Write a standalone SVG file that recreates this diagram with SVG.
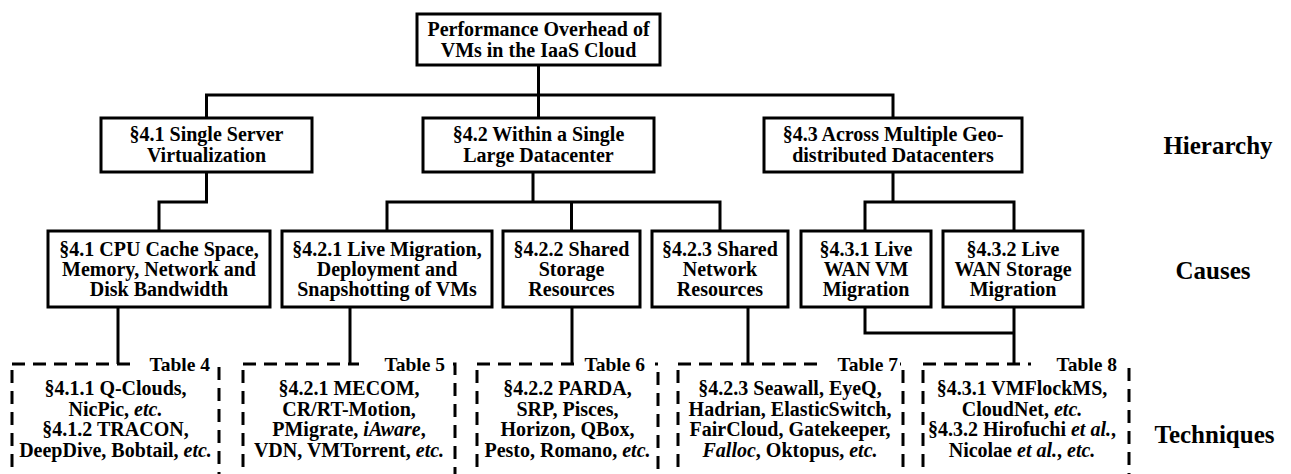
<svg xmlns="http://www.w3.org/2000/svg" width="1291" height="474" viewBox="0 0 1291 474">
<style>
.box{fill:#fff;stroke:#000;stroke-width:3}
.dbox{fill:none;stroke:#000;stroke-width:3;stroke-dasharray:13 8}
.conn{fill:none;stroke:#000;stroke-width:3}
.bg{fill:#fff;stroke:none}
text{font-family:"Liberation Serif","Times New Roman",serif;font-weight:bold;font-size:20px;text-anchor:middle;fill:#000}
.lab{font-size:25px}
.tab{text-anchor:end;font-size:19.5px}
.it{font-style:italic}
</style>
<rect width="1291" height="474" fill="#fff"/>

<g id="connectors">
  <path class="conn" d="M538.5,65 V95 M206.5,118 V95 H893 V118 M538.5,95 V118"/>
  <path class="conn" d="M206.5,172 V202 H159 V231"/>
  <path class="conn" d="M533,172 V202 M387,231 V202 H720 V231 M571.5,202 V231"/>
  <path class="conn" d="M893,172 V202 M865,231 V202 H1014 V231"/>
  <path class="conn" d="M118,307 V364"/>
  <path class="conn" d="M350,307 V364"/>
  <path class="conn" d="M572,307 V364"/>
  <path class="conn" d="M748,307 V364"/>
  <path class="conn" d="M865,307 V333 H1014 M1014,307 V364"/>
</g>

<g id="root">
  <rect class="box" x="417" y="14" width="243" height="51"/>
  <text x="538.5" y="36">Performance Overhead of</text>
  <text x="538.5" y="57">VMs in the IaaS Cloud</text>
</g>

<g id="h41">
  <rect class="box" x="101" y="118" width="211" height="54"/>
  <text x="206.5" y="141">§4.1 Single Server</text>
  <text x="206.5" y="162">Virtualization</text>
</g>
<g id="h42">
  <rect class="box" x="423" y="118" width="231" height="54"/>
  <text x="538.5" y="141">§4.2 Within a Single</text>
  <text x="538.5" y="162">Large Datacenter</text>
</g>
<g id="h43">
  <rect class="box" x="764" y="118" width="258" height="54"/>
  <text x="893" y="141">§4.3 Across Multiple Geo-</text>
  <text x="893" y="162">distributed Datacenters</text>
</g>

<g id="c41">
  <rect class="box" x="48" y="231" width="222" height="76"/>
  <text x="159" y="256">§4.1 CPU Cache Space,</text>
  <text x="159" y="276">Memory, Network and</text>
  <text x="159" y="296">Disk Bandwidth</text>
</g>
<g id="c421">
  <rect class="box" x="282" y="231" width="210" height="76"/>
  <text x="387" y="256">§4.2.1 Live Migration,</text>
  <text x="387" y="276">Deployment and</text>
  <text x="387" y="296">Snapshotting of VMs</text>
</g>
<g id="c422">
  <rect class="box" x="503" y="231" width="137" height="76"/>
  <text x="571.5" y="256">§4.2.2 Shared</text>
  <text x="571.5" y="276">Storage</text>
  <text x="571.5" y="296">Resources</text>
</g>
<g id="c423">
  <rect class="box" x="652" y="231" width="136" height="76"/>
  <text x="720" y="256">§4.2.3 Shared</text>
  <text x="720" y="276">Network</text>
  <text x="720" y="296">Resources</text>
</g>
<g id="c431">
  <rect class="box" x="801" y="231" width="130" height="76"/>
  <text x="866" y="256">§4.3.1 Live</text>
  <text x="866" y="276">WAN VM</text>
  <text x="866" y="296">Migration</text>
</g>
<g id="c432">
  <rect class="box" x="943" y="231" width="140" height="76"/>
  <text x="1013" y="256">§4.3.2 Live</text>
  <text x="1013" y="276">WAN Storage</text>
  <text x="1013" y="296">Migration</text>
</g>

<g id="t4">
  <path class="dbox" d="M12,364 H219 V480 M12,370 V480"/>
  <rect class="bg" x="131" y="355" width="85" height="18"/>
  <text class="tab" x="210" y="371">Table 4</text>
  <text x="115.5" y="395">§4.1.1 Q-Clouds,</text>
  <text x="115.5" y="415.5">NicPic, <tspan class="it">etc.</tspan></text>
  <text x="115.5" y="436">§4.1.2 TRACON,</text>
  <text x="115.5" y="456.5">DeepDive, Bobtail, <tspan class="it">etc.</tspan></text>
</g>
<g id="t5">
  <path class="dbox" d="M243,364 H455 V480 M243,370 V480"/>
  <rect class="bg" x="359" y="355" width="93" height="18"/>
  <text class="tab" x="445" y="371">Table 5</text>
  <text x="349" y="395">§4.2.1 MECOM,</text>
  <text x="349" y="415.5">CR/RT-Motion,</text>
  <text x="349" y="436">PMigrate, <tspan class="it">iAware</tspan>,</text>
  <text x="349" y="456.5">VDN, VMTorrent, <tspan class="it">etc.</tspan></text>
</g>
<g id="t6">
  <path class="dbox" d="M477,364 H658 V480 M477,370 V480"/>
  <rect class="bg" x="576" y="355" width="79" height="18"/>
  <text class="tab" x="645" y="371">Table 6</text>
  <text x="567.5" y="395">§4.2.2 PARDA,</text>
  <text x="567.5" y="415.5">SRP, Pisces,</text>
  <text x="567.5" y="436">Horizon, QBox,</text>
  <text x="567.5" y="456.5">Pesto, Romano, <tspan class="it">etc.</tspan></text>
</g>
<g id="t7">
  <path class="dbox" d="M678,364 H903 V480 M678,370 V480"/>
  <rect class="bg" x="818" y="355" width="82" height="18"/>
  <text class="tab" x="898" y="371">Table 7</text>
  <text x="790" y="395">§4.2.3 Seawall, EyeQ,</text>
  <text x="790" y="415.5">Hadrian, ElasticSwitch,</text>
  <text x="790" y="436">FairCloud, Gatekeeper,</text>
  <text x="790" y="456.5"><tspan class="it">Falloc</tspan>, Oktopus, <tspan class="it">etc.</tspan></text>
</g>
<g id="t8">
  <path class="dbox" d="M923,364 H1129 V480 M923,370 V480"/>
  <rect class="bg" x="1031" y="355" width="95" height="18"/>
  <text class="tab" x="1117" y="371">Table 8</text>
  <text x="1022" y="395">§4.3.1 VMFlockMS,</text>
  <text x="1022" y="415.5">CloudNet, <tspan class="it">etc.</tspan></text>
  <text x="1022" y="436">§4.3.2 Hirofuchi <tspan class="it">et al.</tspan>,</text>
  <text x="1022" y="456.5">Nicolae <tspan class="it">et al.</tspan>, <tspan class="it">etc.</tspan></text>
</g>

<g id="labels">
  <text class="lab" x="1218" y="154">Hierarchy</text>
  <text class="lab" x="1213" y="279">Causes</text>
  <text class="lab" x="1214.5" y="443">Techniques</text>
</g>
</svg>
